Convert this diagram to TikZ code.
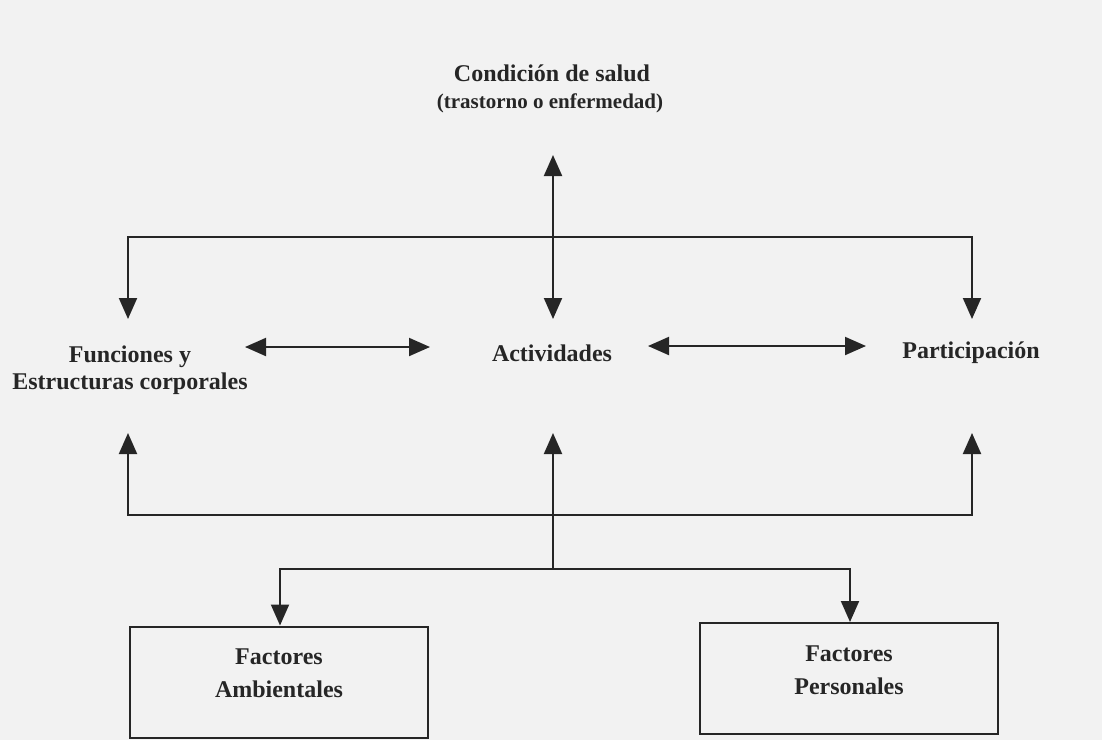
\documentclass[tikz,border=0pt]{standalone}
\usepackage{fontspec}
\setmainfont{Liberation Serif}
\usetikzlibrary{arrows.meta}
\tikzset{
  lbl/.style={font=\bfseries\fontsize{24}{27}\selectfont, align=center, text=black!85, inner sep=0pt},
  boxlbl/.style={font=\bfseries\fontsize{24}{33}\selectfont, align=center, text=black!85, inner sep=0pt},
  sublbl/.style={font=\bfseries\fontsize{21}{24}\selectfont, align=center, text=black!85, inner sep=0pt},
  link/.style={line width=2pt, draw=black!85},
  arr/.style={link, -{Triangle[length=21pt,width=18pt]}},
  darr/.style={link, {Triangle[length=21pt,width=18pt]}-{Triangle[length=21pt,width=18pt]}},
  factorbox/.style={draw=black!85, line width=2pt, minimum width=298pt, minimum height=111pt, inner sep=0pt}
}
\begin{document}
\begin{tikzpicture}[x=1pt,y=-1pt]
\fill[black!5] (0,0) rectangle (1102,740);
\useasboundingbox (0,0) rectangle (1102,740);
% texts
\node[lbl] (cond) at (552,73) {Condición de salud};
\node[sublbl] (tras) at (550,103) {(trastorno o enfermedad)};
\node[lbl] (func) at (130,370) {Funciones y\\Estructuras corporales};
\node[lbl] (act) at (552,353) {Actividades};
\node[lbl] (part) at (971,353) {Participación};
\node[factorbox] (amb) at (279,682) {};
\node[boxlbl] at (279,673) {Factores\\Ambientales};
\node[factorbox] (pers) at (849,678.5) {};
\node[boxlbl] at (849,670) {Factores\\Personales};
% coordinates
\coordinate (ctop) at (553,155);
\coordinate (cbot) at (553,319);
\coordinate (tl) at (128,237);
\coordinate (tr) at (972,237);
\coordinate (ftip) at (128,319);
\coordinate (ptip) at (972,319);
\coordinate (fa) at (245,347);
\coordinate (fb) at (430,347);
\coordinate (pa) at (648,346);
\coordinate (pb) at (866,346);
\coordinate (fup) at (128,433);
\coordinate (pup) at (972,433);
\coordinate (aup) at (553,433);
\coordinate (bl) at (128,515);
\coordinate (br) at (972,515);
\coordinate (mj) at (553,569);
\coordinate (ml) at (280,569);
\coordinate (mr) at (850,569);
% connectors
\draw[darr] (ctop) -- (cbot);
\draw[arr] (tr) -- (tl) -- (ftip);
\draw[arr] (tl) -- (tr) -- (ptip);
\draw[darr] (fa) -- (fb);
\draw[darr] (pa) -- (pb);
\draw[arr] (br) -- (bl) -- (fup);
\draw[arr] (bl) -- (br) -- (pup);
\draw[arr] (mj) -- (aup);
\draw[arr] (mr) -- (ml) -- (amb.north -| ml);
\draw[arr] (ml) -- (mr) -- (pers.north -| mr);
\end{tikzpicture}
\end{document}
